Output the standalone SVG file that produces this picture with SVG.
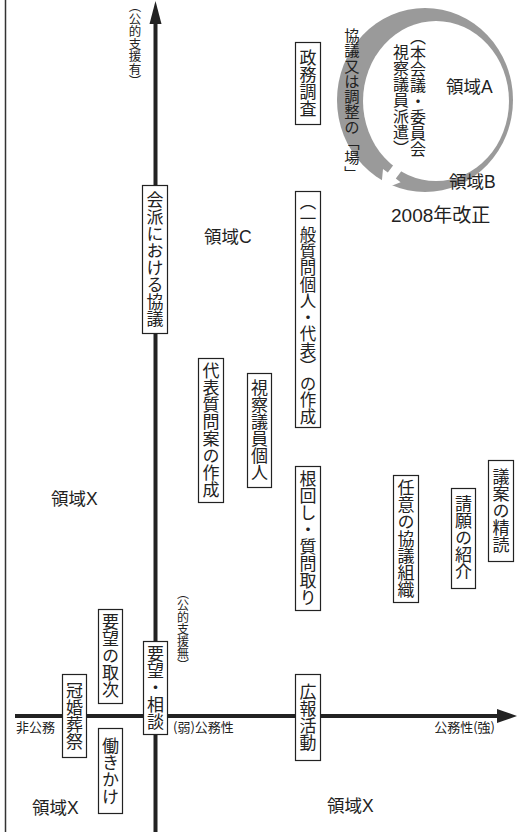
<svg xmlns="http://www.w3.org/2000/svg" width="517" height="832" viewBox="0 0 517 832">
<style>
.bx{fill:#fff;stroke:#222;stroke-width:1.2}
.vt{font-family:"Noto Sans CJK JP",sans-serif;font-size:17px;fill:#222;writing-mode:vertical-rl;text-anchor:middle}
.vs{font-family:"Noto Sans CJK JP",sans-serif;font-size:12.5px;fill:#222;writing-mode:vertical-rl;text-anchor:middle}
.lb{font-family:"Liberation Sans","Noto Sans CJK JP",sans-serif;font-size:17.5px;fill:#222}
.ax{font-family:"Noto Sans CJK JP",sans-serif;font-size:13px;fill:#222}
</style>
<rect width="517" height="832" fill="#fff"/>
<g id="connectors">
<line x1="5.5" y1="0" x2="5.5" y2="832" stroke="#333" stroke-width="1.5"/>
<line x1="155.5" y1="20" x2="155.5" y2="832" stroke="#222" stroke-width="4"/>
<polygon points="155.5,1 149.5,24 161.5,24" fill="#222"/>
<line x1="15" y1="716" x2="500" y2="716" stroke="#222" stroke-width="4"/>
<polygon points="517,716 497,709 497,723" fill="#222"/>
</g>
<g id="cycle">
<ellipse cx="425" cy="100" rx="88" ry="92" fill="#9a9a9a"/>
<ellipse cx="436" cy="101" rx="73" ry="80" fill="#fff"/>
<polygon points="409,161 401,155 387.8,172.6 383,169 381,190 400.6,182.2 395.8,178.6" fill="#fff"/>
</g>
<g id="label-kyogi"><text class="vt" x="352" y="104" style="font-size:15.3px">協議又は調整の「場」</text></g>
<g id="areaA">
<text class="vt" x="418" y="29" style="font-size:16px;text-anchor:start">（本会議・委員会</text>
<text class="vt" x="401" y="44" style="font-size:16px;text-anchor:start">視察議員派遣）</text>
<text class="lb" x="446" y="93">領域A</text>
</g>
<g id="areaB"><text class="lb" x="449" y="188">領域B</text></g>
<g id="kaisei"><text class="lb" x="391" y="222" style="font-size:19px">2008年改正</text></g>
<g id="areaC"><text class="lb" x="204" y="243">領域C</text></g>
<g id="areaX1"><text class="lb" x="51" y="505">領域X</text></g>
<g id="areaX2"><text class="lb" x="32" y="814">領域X</text></g>
<g id="areaX3"><text class="lb" x="327" y="812">領域X</text></g>
<g id="axis-labels">
<text class="vs" x="135" y="44">（公的支援有）</text>
<text class="vs" x="183" y="629" style="font-size:12px">（公的支援無）</text>
<text class="ax" x="16" y="732">非公務</text>
<text class="ax" x="173" y="732">(弱)公務性</text>
<text class="ax" x="495" y="732" text-anchor="end">公務性(強)</text>
</g>
<g id="n-seimu"><rect class="bx" x="295.5" y="42.5" width="25" height="82"/><text class="vt" x="308" y="83">政務調査</text></g>
<g id="n-kaiha"><rect class="bx" x="142.5" y="185.5" width="25" height="148"/><text class="vt" x="155" y="259">会派における協議</text></g>
<g id="n-ippan"><rect class="bx" x="295.5" y="191.5" width="25" height="236"/><text class="vt" x="308" y="309" style="font-size:16.5px">（一般質問個人・代表）の作成</text></g>
<g id="n-daihyo"><rect class="bx" x="198.5" y="358.5" width="25" height="144"/><text class="vt" x="211" y="430">代表質問案の作成</text></g>
<g id="n-shisatsu"><rect class="bx" x="247.5" y="373.5" width="24" height="114"/><text class="vt" x="259.5" y="430">視察議員個人</text></g>
<g id="n-nemawashi"><rect class="bx" x="295.5" y="466.5" width="25" height="144"/><text class="vt" x="308" y="538">根回し・質問取り</text></g>
<g id="n-nini"><rect class="bx" x="393.5" y="475.5" width="25" height="127"/><text class="vt" x="406" y="539">任意の協議組織</text></g>
<g id="n-seigan"><rect class="bx" x="451.5" y="488.5" width="24" height="100"/><text class="vt" x="463.5" y="538">請願の紹介</text></g>
<g id="n-gian"><rect class="bx" x="488.5" y="460.5" width="25" height="101"/><text class="vt" x="501" y="511">議案の精読</text></g>
<g id="n-yobo-toritsugi"><rect class="bx" x="98.5" y="609.5" width="24" height="94"/><text class="vt" x="110.5" y="656">要望の取次</text></g>
<g id="n-kankon"><rect class="bx" x="62.5" y="674.5" width="24" height="83"/><text class="vt" x="74.5" y="716">冠婚葬祭</text></g>
<g id="n-yobo-sodan"><rect class="bx" x="143.5" y="641.5" width="24" height="93"/><text class="vt" x="155.5" y="688">要望・相談</text></g>
<g id="n-hatarakikake"><rect class="bx" x="98.5" y="728.5" width="24" height="85"/><text class="vt" x="110.5" y="771">働きかけ</text></g>
<g id="n-koho"><rect class="bx" x="295.5" y="674.5" width="25" height="86"/><text class="vt" x="308" y="717">広報活動</text></g>
</svg>
